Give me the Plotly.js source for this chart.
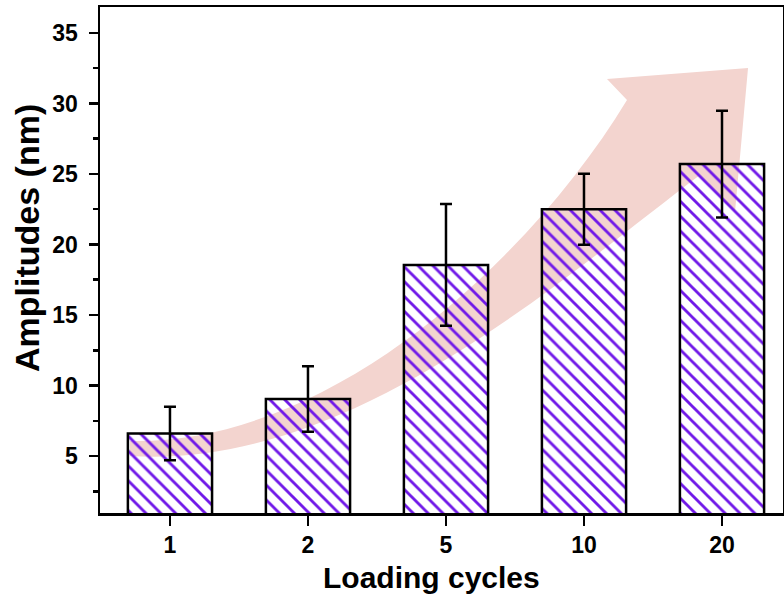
<!DOCTYPE html>
<html>
<head>
<meta charset="utf-8">
<script src="https://cdn.plot.ly/plotly-3.0.1.min.js"></script>
<style>
  html, body { margin: 0; padding: 0; background: #fff; }
  #chart { width: 784px; height: 596px; }
</style>
</head>
<body>
<div id="chart"></div>
<script>
// Amplitude measured after each number of loading cycles
const cycles = ['1', '2', '5', '10', '20'];
const amplitudes = [6.6, 9.05, 18.55, 22.5, 25.7];
const amplitudeErr = [1.9, 2.32, 4.32, 2.52, 3.78];
const yTickVals = [5, 10, 15, 20, 25, 30, 35];
const xTitle = 'Loading cycles';
const yTitle = 'Amplitudes (nm)';

// Plot frame in pixels (used to place the decorative trend arrow and titles)
const W = 784, H = 596;
const M = { l: 100, r: 1, t: 7, b: 83 };
const plotW = W - M.l - M.r, plotH = H - M.t - M.b;
const fx = x => (x - M.l) / plotW;
const fy = y => (M.t + plotH - y) / plotH;
const P = (x, y) => fx(x).toFixed(4) + ',' + fy(y).toFixed(4);

// Curved "increasing" arrow drawn behind the bars
const arrowPath =
  'M' + P(130, 441) +
  ' C' + P(330, 445) + ' ' + P(530, 260) + ' ' + P(627, 100) +
  ' L' + P(607, 79) +
  ' L' + P(748, 68) +
  ' L' + P(735, 212) +
  ' L' + P(700, 175) +
  ' C' + P(560, 280) + ' ' + P(350, 470) + ' ' + P(130, 456) +
  ' Z';

const font = { family: 'Liberation Sans, Arial, sans-serif', color: '#000', weight: 'bold' };

const trace = {
  type: 'bar',
  x: cycles,
  y: amplitudes,
  width: 0.61,
  marker: {
    color: '#7420E0',
    line: { color: '#000', width: 2.5 },
    pattern: { shape: '\\', fgcolor: '#7018E8', bgcolor: 'rgba(0,0,0,0)', size: 10.5, solidity: 0.27, fillmode: 'replace' }
  },
  error_y: { type: 'data', array: amplitudeErr, visible: true, color: '#000', thickness: 2.5, width: 6 },
  hoverinfo: 'skip'
};

const layout = {
  width: W, height: H,
  margin: M,
  paper_bgcolor: '#fff',
  plot_bgcolor: 'rgba(0,0,0,0)',
  showlegend: false,
  xaxis: {
    type: 'category',
    range: [-0.507, 4.442],
    showline: true, linecolor: '#000', linewidth: 2.5, mirror: true,
    ticks: 'outside', ticklen: 10, tickwidth: 2.5, tickcolor: '#000',
    showgrid: false, zeroline: false,
    ticklabelstandoff: 0,
    tickfont: Object.assign({ size: 23 }, font)
  },
  yaxis: {
    range: [0.96, 36.84],
    tickvals: yTickVals,
    showline: true, linecolor: '#000', linewidth: 2.5, mirror: true,
    ticks: 'outside', ticklen: 9, tickwidth: 2.5, tickcolor: '#000',
    minor: { dtick: 2.5, tick0: 0, ticks: 'outside', ticklen: 5, tickwidth: 2.5, tickcolor: '#000', showgrid: false },
    showgrid: false, zeroline: false,
    ticklabelstandoff: 6,
    tickfont: Object.assign({ size: 23 }, font)
  },
  annotations: [
    {
      text: xTitle, xref: 'paper', yref: 'paper',
      x: fx(431.5), y: fy(577), xanchor: 'center', yanchor: 'middle',
      showarrow: false, font: Object.assign({ size: 30 }, font)
    },
    {
      text: yTitle, xref: 'paper', yref: 'paper', textangle: -90,
      x: fx(27), y: fy(238), xanchor: 'center', yanchor: 'middle',
      showarrow: false, font: Object.assign({ size: 34 }, font)
    }
  ],
  shapes: [{
    type: 'path', xref: 'paper', yref: 'paper', layer: 'below',
    path: arrowPath,
    fillcolor: 'rgb(243,212,207)', line: { width: 0 }
  }]
};

Plotly.newPlot('chart', [trace], layout, { displayModeBar: false, staticPlot: true });
</script>
</body>
</html>
